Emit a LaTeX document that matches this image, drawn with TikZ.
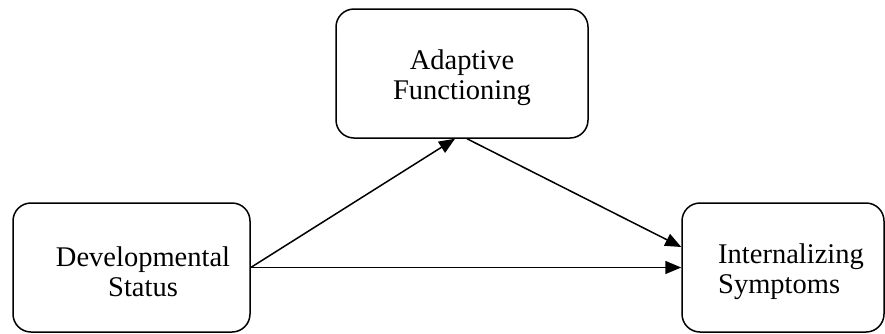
\documentclass[tikz,border=0pt]{standalone}
\usepackage{fontspec}
\setmainfont{Liberation Serif}
\usetikzlibrary{arrows.meta}
\begin{document}
\begin{tikzpicture}[x=1pt,y=-1pt,
  box/.style={draw=black,line width=1.5pt,rounded corners=18pt,inner sep=0pt},
  lbl/.style={font=\fontsize{28.5}{30}\selectfont,inner sep=0pt},
  conn/.style={line width=1.5pt,-{Triangle[length=16pt,width=13pt]}}]
\useasboundingbox (0,0) rectangle (885,333);
\node[box,minimum width=252pt,minimum height=129pt] (A) at (462,73.5) {};
\node[box,minimum width=237pt,minimum height=129pt] (D) at (131.5,267.5) {};
\node[box,minimum width=202pt,minimum height=129pt] (I) at (783,267.5) {};
\node[lbl,align=center] (At) at (462,78) {Adaptive\\Functioning};
\node[lbl,align=center] (Dt) at (143,272) {Developmental\\Status};
\node[lbl,align=left,anchor=west] (It) at (718,272) {Internalizing\\Symptoms};
\draw[conn] (D.east) -- ([xshift=-7pt]A.south);
\draw[conn] ([xshift=5pt]A.south) -- ([yshift=20.5pt]I.west);
\draw[conn] (D.east) -- (I.west);
\end{tikzpicture}
\end{document}
